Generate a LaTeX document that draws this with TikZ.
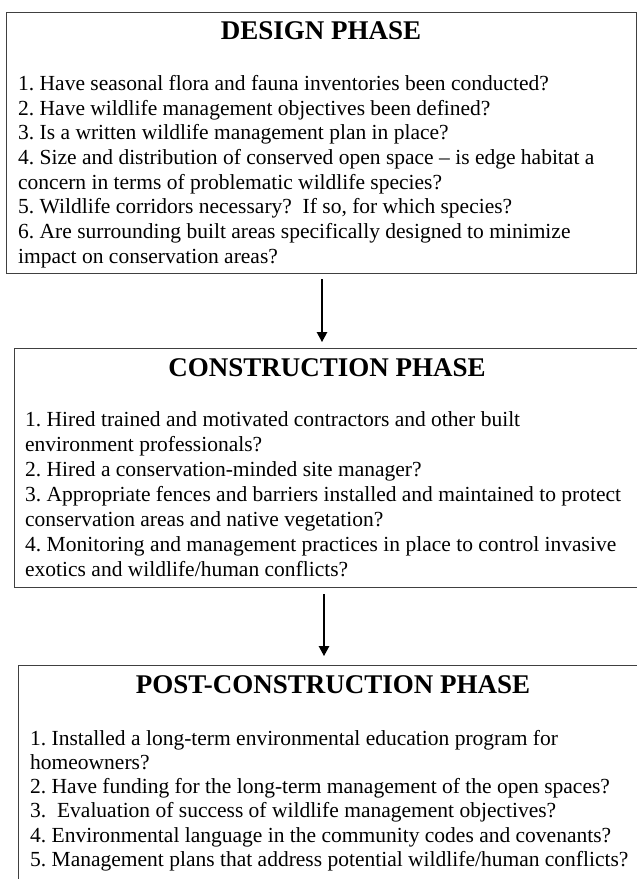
\documentclass[tikz,border=0pt]{standalone}
\usepackage{fontspec}
\setmainfont{Liberation Serif}
\usetikzlibrary{arrows.meta}
\begin{document}
\frenchspacing
\begin{tikzpicture}[x=1pt,y=-1pt,
  phasebox/.style={draw=black!75, line width=1.3pt, inner sep=0pt, anchor=north west},
  ptitle/.style={font=\fontsize{27}{30}\selectfont\bfseries, anchor=base, inner sep=0pt},
  plist/.style={font=\fontsize{21.5}{24.7}\selectfont, anchor=base west, inner sep=0pt},
  flow/.style={-{Triangle[length=10pt,width=10.5pt]}, line width=1.3pt}]
\useasboundingbox (0,0) rectangle (637,879);
\clip (0,0) rectangle (637,879);
% boxes
\node[phasebox, minimum width=630pt, minimum height=261pt] (b1) at (6,12) {};
\node[phasebox, minimum width=640pt, minimum height=239pt] (b2) at (14,348) {};
\node[phasebox, minimum width=640pt, minimum height=240pt] (b3) at (18,665) {};
% titles
\node[ptitle] (t1) at (321,39) {DESIGN PHASE};
\node[ptitle] (t2) at (327,376.7) {CONSTRUCTION PHASE};
\node[ptitle] (t3) at (333,693) {POST-CONSTRUCTION PHASE};
% design items
\foreach \t [count=\i] in {
  {1. Have seasonal flora and fauna inventories been conducted?},
  {2. Have wildlife management objectives been defined?},
  {3. Is a written wildlife management plan in place?},
  {4. Size and distribution of conserved open space -- is edge habitat a},
  {concern in terms of problematic wildlife species?},
  {5. Wildlife corridors necessary?\ \ If so, for which species?},
  {6. Are surrounding built areas specifically designed to minimize},
  {impact on conservation areas?}}
  \node[plist] (d\i) at (18, {90.5+24.65*(\i-1)}) {\t};
% construction items
\foreach \t [count=\i] in {
  {1. Hired trained and motivated contractors and other built},
  {environment professionals?},
  {2. Hired a conservation-minded site manager?},
  {3. Appropriate fences and barriers installed and maintained to protect},
  {conservation areas and native vegetation?},
  {4. Monitoring and management practices in place to control invasive},
  {exotics and wildlife/human conflicts?}}
  \node[plist] (c\i) at (25, {426.7+25*(\i-1)}) {\t};
% post-construction items
\foreach \t [count=\i] in {
  {1. Installed a long-term environmental education program for},
  {homeowners?},
  {2. Have funding for the long-term management of the open spaces?},
  {3.\ \ Evaluation of success of wildlife management objectives?},
  {4. Environmental language in the community codes and covenants?},
  {5. Management plans that address potential wildlife/human conflicts?}}
  \node[plist] (p\i) at (30, {745+24.3*(\i-1)}) {\t};
% connectors
\coordinate (a1) at (322,0);
\coordinate (a2) at (324,0);
\draw[flow, shorten <=5pt, shorten >=6pt] (b1.south -| a1) -- (b2.north -| a1);
\draw[flow, shorten <=6pt, shorten >=9pt] (b2.south -| a2) -- (b3.north -| a2);
\end{tikzpicture}
\end{document}
